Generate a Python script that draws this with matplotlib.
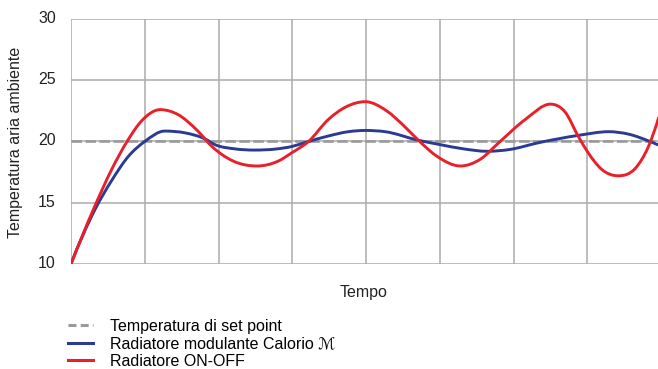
import matplotlib
matplotlib.use("Agg")
import matplotlib.pyplot as plt
from matplotlib.path import Path
from matplotlib.patches import PathPatch
from matplotlib.lines import Line2D
import matplotlib.transforms as mtransforms

# Time axis in grid units (8 intervals), temperatures in °C
setpoint_value = 20

onoff_time = [0.00, 0.30, 0.55, 0.76, 0.96, 1.21, 1.45, 1.72, 1.91, 2.20, 2.52,
              2.81, 3.00, 3.22, 3.49, 3.72, 3.99, 4.28, 4.51, 4.71, 4.96,
              5.28, 5.55, 5.80, 6.16, 6.50, 6.70, 6.88, 7.01, 7.20, 7.42,
              7.65, 7.83, 7.97]
onoff_temp = [10.0, 14.4, 17.7, 20.0, 21.7, 22.6, 22.2, 20.85, 19.6, 18.4, 18.0,
              18.4, 19.1, 20.0, 21.8, 22.8, 23.25, 22.5, 21.3, 20.1, 18.8,
              18.0, 18.55, 19.9, 21.8, 23.05, 22.4, 20.4, 19.1, 17.7, 17.2,
              17.8, 19.6, 22.0]

calorio_time = [0.00, 0.33, 0.55, 0.78, 1.00, 1.27, 1.55, 1.82, 1.95, 2.22,
                2.49, 2.77, 3.00, 3.22, 3.49, 3.76, 3.99, 4.26, 4.71, 5.00,
                5.32, 5.64, 5.95, 6.34, 6.88, 7.29, 7.56, 7.87, 7.97]
calorio_temp = [10.0, 14.5, 16.8, 18.8, 20.0, 20.85, 20.7, 20.2, 19.75, 19.4,
                19.3, 19.38, 19.6, 20.0, 20.45, 20.8, 20.9, 20.8, 20.1, 19.75,
                19.4, 19.2, 19.35, 19.9, 20.5, 20.8, 20.6, 19.95, 19.7]

x_ticks = list(range(0, 9))
y_ticks = [10, 15, 20, 25, 30]

labels = ["Temperatura di set point",
          "Radiatore modulante Calorio \u2133",
          "Radiatore ON-OFF"]

RED = "#e8202a"
BLUE = "#2b3a93"
SET_GREY = "#9a9a9a"
TEXT = "#222222"
FS = 11.5

plt.rcParams['font.family'] = ['Liberation Sans', 'DejaVu Sans']


def tangents(xs, ys):
    """Three-point tangents, flattened at local extrema."""
    n = len(xs)
    h = [xs[i + 1] - xs[i] for i in range(n - 1)]
    d = [(ys[i + 1] - ys[i]) / h[i] for i in range(n - 1)]
    m = [0.0] * n
    for k in range(1, n - 1):
        if d[k - 1] * d[k] <= 0:
            m[k] = 0.0
        else:
            m[k] = (h[k] * d[k - 1] + h[k - 1] * d[k]) / (h[k - 1] + h[k])
    m[0] = ((2 * h[0] + h[1]) * d[0] - h[0] * d[1]) / (h[0] + h[1])
    m[-1] = ((2 * h[-1] + h[-2]) * d[-1] - h[-1] * d[-2]) / (h[-1] + h[-2])
    return m


def smooth_path(xs, ys):
    """Cubic Hermite curve through the points, as a Bezier path."""
    m = tangents(xs, ys)
    verts = [(xs[0], ys[0])]
    codes = [Path.MOVETO]
    for i in range(len(xs) - 1):
        h = xs[i + 1] - xs[i]
        verts += [(xs[i] + h / 3, ys[i] + m[i] * h / 3),
                  (xs[i + 1] - h / 3, ys[i + 1] - m[i + 1] * h / 3),
                  (xs[i + 1], ys[i + 1])]
        codes += [Path.CURVE4] * 3
    return Path(verts, codes)


fig = plt.figure(figsize=(6.58, 3.69), dpi=100)
ax = fig.add_axes([0.1079, 0.2846, 0.8967, 0.6639])

grid_color = "#ababab"
for x in x_ticks:
    ax.axvline(x, color=grid_color, lw=1.1, zorder=1)
for y in y_ticks:
    ax.axhline(y, color=grid_color, lw=1.1, zorder=1)

ax.plot([x_ticks[0], x_ticks[-1]], [setpoint_value, setpoint_value],
        color=SET_GREY, lw=1.9, dashes=(4, 1.3), zorder=2)
ax.add_patch(PathPatch(smooth_path(calorio_time, calorio_temp), fill=False,
                       edgecolor=BLUE, lw=2.1, joinstyle="round", zorder=3))
ax.add_patch(PathPatch(smooth_path(onoff_time, onoff_temp), fill=False,
                       edgecolor=RED, lw=2.1, joinstyle="round", zorder=4))

ax.set_xlim(0, 8)
ax.set_ylim(10, 30)
ax.set_xticks([])
ax.set_yticks(y_ticks)
ax.tick_params(axis="y", length=0, pad=11, labelsize=FS, labelcolor=TEXT)
shift_up = mtransforms.ScaledTranslation(0, 2 / 100, fig.dpi_scale_trans)
for lab in ax.get_yticklabels():
    lab.set_transform(lab.get_transform() + shift_up)
for s in ax.spines.values():
    s.set_visible(False)

ax.set_ylabel("Temperatura aria ambiente", fontsize=FS, color=TEXT)
ax.yaxis.set_label_coords(-0.082, 0.495)
ax.set_xlabel("Tempo", fontsize=FS, color=TEXT)
ax.xaxis.set_label_coords((364 - 71) / 590, -0.085)

handles = [Line2D([], [], color=SET_GREY, lw=2.2, dashes=(2.6, 1.4)),
           Line2D([], [], color=BLUE, lw=2.2),
           Line2D([], [], color=RED, lw=2.2)]
fig.legend(handles, labels, loc="upper left",
           bbox_to_anchor=(0.1033, 0.136), frameon=False,
           fontsize=FS, handlelength=1.56, handletextpad=1.05,
           labelspacing=0.16, borderpad=0, borderaxespad=0)

fig.savefig("out.png", dpi=100)
